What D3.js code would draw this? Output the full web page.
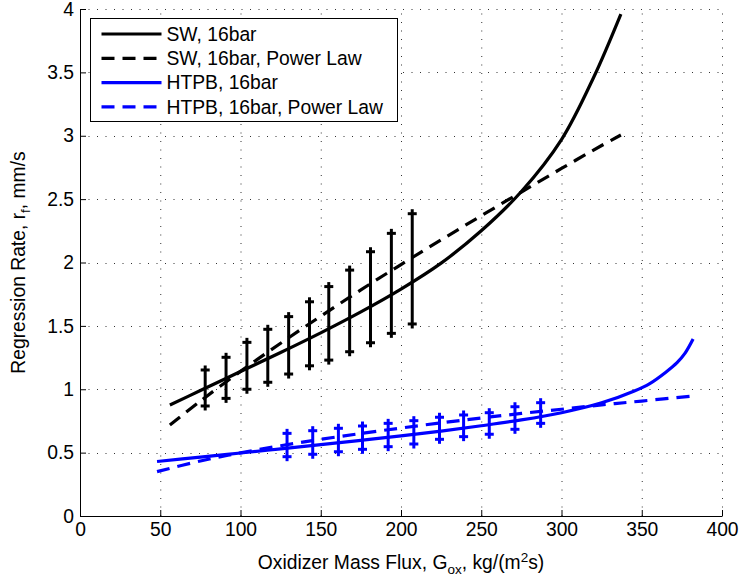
<!DOCTYPE html>
<html>
<head>
<meta charset="utf-8">
<script src="https://cdn.jsdelivr.net/npm/d3@7"></script>
<style>
  html, body { margin: 0; padding: 0; background: #fff; }
  svg { display: block; font-family: "Liberation Sans", Arial, Helvetica, sans-serif; }
</style>
</head>
<body>
<svg id="chart" width="739" height="583"></svg>
<script>
// Regression rate vs. oxidizer mass flux, 16 bar
const xTicks = [0, 50, 100, 150, 200, 250, 300, 350, 400];
const yTicks = [0, 0.5, 1, 1.5, 2, 2.5, 3, 3.5, 4];
const yTickLabels = ["0", "0.5", "1", "1.5", "2", "2.5", "3", "3.5", "4"];

// SW fit curve
const swG = [56, 75, 100, 125, 150, 175, 200, 225, 250, 275, 300, 320, 337];
const swR = [0.876, 0.99, 1.14, 1.29, 1.445, 1.61, 1.79, 1.995, 2.25, 2.56, 2.97, 3.46, 3.96];

// SW power law
const swPowG = [56, 75, 100, 125, 150, 175, 200, 225, 250, 275, 300, 325, 337];
const swPowR = [0.718, 0.907, 1.141, 1.363, 1.576, 1.784, 1.984, 2.178, 2.369, 2.556, 2.742, 2.923, 3.006];

// SW measurement ranges
const swBarG = [78, 91, 104, 117, 130, 143, 155, 168, 181, 194, 207];
const swBarLow = [0.868, 0.928, 1.00, 1.055, 1.12, 1.185, 1.23, 1.296, 1.367, 1.441, 1.515];
const swBarHigh = [1.152, 1.252, 1.37, 1.473, 1.573, 1.69, 1.81, 1.94, 2.085, 2.23, 2.385];

// HTPB fit curve
const htpbG = [48, 75, 100, 125, 150, 175, 200, 225, 250, 275, 300, 325, 345, 355, 365, 372, 377, 382];
const htpbR = [0.43, 0.465, 0.497, 0.53, 0.563, 0.597, 0.632, 0.67, 0.712, 0.758, 0.815, 0.893, 0.985, 1.045, 1.135, 1.21, 1.285, 1.396];

// HTPB power law
const htpbPowG = [48, 75, 100, 125, 150, 175, 200, 225, 250, 275, 300, 325, 350, 382];
const htpbPowR = [0.35, 0.434, 0.498, 0.554, 0.605, 0.651, 0.694, 0.735, 0.773, 0.809, 0.842, 0.877, 0.907, 0.947];

// HTPB measurement ranges
const htpbBarG = [129, 145, 161, 176, 192, 208, 224, 239, 255, 271, 287];
const htpbBarLow = [0.468, 0.487, 0.507, 0.526, 0.547, 0.568, 0.605, 0.626, 0.645, 0.684, 0.731];
const htpbBarHigh = [0.652, 0.673, 0.692, 0.71, 0.731, 0.752, 0.779, 0.797, 0.815, 0.862, 0.894];

const legendLabels = ["SW, 16bar", "SW, 16bar, Power Law", "HTPB, 16bar", "HTPB, 16bar, Power Law"];

const BLUE = "#0000ff", BLACK = "#000000";
const FONT = 19.3;

const svg = d3.select("#chart");
const margin = { left: 80, top: 9, right: 17, bottom: 67 };
const W = 739 - margin.left - margin.right;
const H = 583 - margin.top - margin.bottom;

const x = d3.scaleLinear().domain([0, 400]).range([0, W]);
const y = d3.scaleLinear().domain([0, 4]).range([H, 0]);

const g = svg.append("g").attr("transform", `translate(${margin.left},${margin.top})`);

// dotted grid
const grid = g.append("g").attr("stroke", "#333").attr("stroke-width", 1)
  .attr("stroke-dasharray", "1,7.5");
grid.selectAll("line.vx").data(xTicks.slice(1)).join("line")
  .attr("x1", d => x(d) + 0.5).attr("x2", d => x(d) + 0.5)
  .attr("y1", H).attr("y2", 0);
grid.selectAll("line.hy").data(yTicks.slice(1)).join("line")
  .attr("x1", 0).attr("x2", W)
  .attr("y1", d => Math.round(y(d)) + 0.5).attr("y2", d => Math.round(y(d)) + 0.5);

// axes
const xAxis = d3.axisBottom(x).tickValues(xTicks).tickSizeInner(-6).tickSizeOuter(0).tickPadding(6);
const yAxis = d3.axisLeft(y).tickValues(yTicks).tickFormat((d, i) => yTickLabels[i])
  .tickSizeInner(-6).tickSizeOuter(0).tickPadding(6);

const gx = g.append("g").attr("transform", `translate(0,${H})`).call(xAxis);
const gy = g.append("g").call(yAxis);
[gx, gy].forEach(a => {
  a.select(".domain").attr("stroke", "#000").attr("stroke-width", 1);
  a.selectAll(".tick line").attr("stroke", "#000");
  a.selectAll("text").attr("fill", "#000").style("font-size", FONT + "px")
    .style("font-family", '"Liberation Sans", Arial, Helvetica, sans-serif');
});

// curves
const zip = (a, b) => a.map((v, i) => [v, b[i]]);
const smooth = d3.line().x(d => x(d[0])).y(d => y(d[1])).curve(d3.curveCatmullRom.alpha(0.5));

function drawLine(G, R, color, dashed) {
  g.append("path").datum(zip(G, R))
    .attr("d", smooth).attr("fill", "none")
    .attr("stroke", color).attr("stroke-width", 3.2)
    .attr("stroke-dasharray", dashed ? "13,8" : null);
}
drawLine(swG, swR, BLACK, false);
drawLine(swPowG, swPowR, BLACK, true);
drawLine(htpbG, htpbR, BLUE, false);
drawLine(htpbPowG, htpbPowR, BLUE, true);

// measurement ranges with + end markers
function drawBars(G, lo, hi, color) {
  const bars = g.append("g").attr("stroke", color).attr("stroke-width", 3).attr("fill", "none");
  const arm = 4.5;
  G.forEach((gv, i) => {
    const cx = x(gv), y0 = y(lo[i]), y1 = y(hi[i]);
    bars.append("line").attr("x1", cx).attr("x2", cx).attr("y1", y0 + arm).attr("y2", y1 - arm);
    [y0, y1].forEach(yy => {
      bars.append("line").attr("x1", cx - arm).attr("x2", cx + arm).attr("y1", yy).attr("y2", yy);
    });
  });
}
drawBars(swBarG, swBarLow, swBarHigh, BLACK);
drawBars(htpbBarG, htpbBarLow, htpbBarHigh, BLUE);

// legend
const lg = svg.append("g").attr("transform", "translate(90.5,18.5)");
lg.append("rect").attr("width", 307).attr("height", 103)
  .attr("fill", "#fff").attr("stroke", "#000").attr("stroke-width", 1);
const legendStyle = [[BLACK, false], [BLACK, true], [BLUE, false], [BLUE, true]];
legendLabels.forEach((lab, i) => {
  const yy = 15.5 + i * 24.3;
  lg.append("line").attr("x1", 11).attr("x2", 71).attr("y1", yy).attr("y2", yy)
    .attr("stroke", legendStyle[i][0]).attr("stroke-width", 3.2)
    .attr("stroke-dasharray", legendStyle[i][1] ? "13,8" : null);
  lg.append("text").attr("x", 76).attr("y", yy).attr("dy", "0.35em")
    .style("font-size", FONT + "px").attr("fill", "#000").text(lab);
});

// axis titles
const xt = svg.append("text").attr("x", margin.left + W / 2).attr("y", 569)
  .attr("text-anchor", "middle").style("font-size", FONT + "px");
xt.append("tspan").text("Oxidizer Mass Flux, G");
xt.append("tspan").attr("dy", 5).style("font-size", "13.5px").text("ox");
xt.append("tspan").attr("dy", -5).text(", kg/(m");
xt.append("tspan").attr("dy", -7).style("font-size", "13.5px").text("2");
xt.append("tspan").attr("dy", 7).text("s)");

const yt = svg.append("text")
  .attr("transform", `translate(25,${margin.top + H / 2}) rotate(-90)`)
  .attr("text-anchor", "middle").style("font-size", FONT + "px");
yt.append("tspan").text("Regression Rate, r");
yt.append("tspan").attr("dy", 5).style("font-size", "13.5px").text("f");
yt.append("tspan").attr("dy", -5).text(", mm/s");
</script>
</body>
</html>
